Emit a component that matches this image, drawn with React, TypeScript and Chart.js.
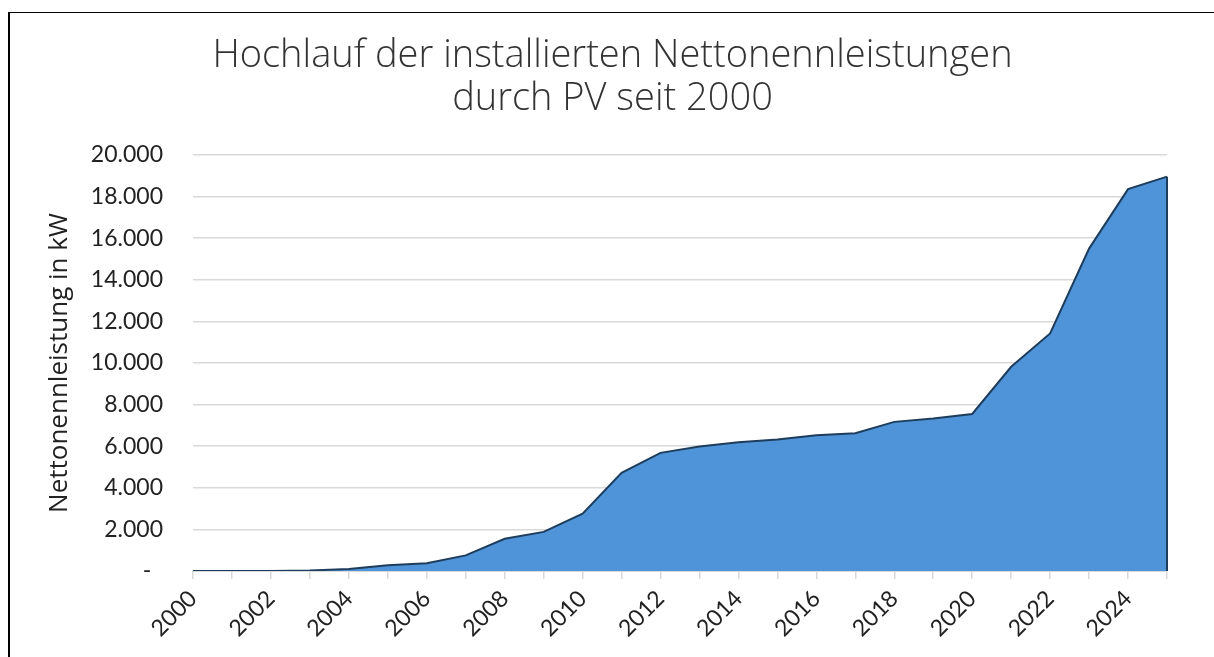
import React, { useEffect, useRef } from 'react';
import { Chart, registerables } from 'chart.js';

Chart.register(...registerables);

const years: string[] = [
  '2000', '2001', '2002', '2003', '2004', '2005', '2006', '2007', '2008', '2009',
  '2010', '2011', '2012', '2013', '2014', '2015', '2016', '2017', '2018', '2019',
  '2020', '2021', '2022', '2023', '2024', '2025',
];

const capacityKW: number[] = [
  0, 0, 5, 30, 100, 280, 370, 750, 1550, 1880,
  2760, 4720, 5680, 5980, 6190, 6320, 6530, 6620, 7170, 7330,
  7550, 9820, 11420, 15500, 18360, 18960,
];

const titleLines: string[] = ['Hochlauf der installierten Nettonennleistungen', 'durch PV seit 2000'];
const yAxisTitle = 'Nettonennleistung in kW';
const yMin = 0;
const yMax = 20000;
const yStep = 2000;

const FONT = 'Lato, "Open Sans", "Noto Sans", sans-serif';
const WIDE_FONT = '"Open Sans", Lato, "Noto Sans", sans-serif';
const TEXT = '#222222';
const GRID = '#d9d9d9';

function formatThousands(v: number): string {
  if (v === 0) return '-  ';
  return Math.round(v).toString().replace(/\B(?=(\d{3})+(?!\d))/g, '.');
}

const rightEdgePlugin = {
  id: 'rightEdge',
  afterDatasetsDraw(chart: any) {
    const meta = chart.getDatasetMeta(0);
    const pts = meta.data;
    if (!pts || !pts.length) return;
    const last = pts[pts.length - 1];
    const base = chart.scales.y.getPixelForValue(0);
    const ctx = chart.ctx;
    ctx.save();
    ctx.strokeStyle = '#1E3D5C';
    ctx.lineWidth = 2;
    ctx.beginPath();
    ctx.moveTo(last.x, last.y);
    ctx.lineTo(last.x, base);
    ctx.stroke();
    ctx.restore();
  },
};

export default function App() {
  const ref = useRef<HTMLCanvasElement | null>(null);

  useEffect(() => {
    if (!ref.current) return;
    const chart = new Chart(ref.current, {
      type: 'line',
      data: {
        labels: years,
        datasets: [
          {
            data: capacityKW,
            fill: 'origin',
            backgroundColor: '#4F94D8',
            borderColor: '#1E3D5C',
            borderWidth: 2,
            pointRadius: 0,
            tension: 0,
            yAxisID: 'y',
          },
        ],
      },
      options: {
        responsive: false,
        animation: false,
        layout: { padding: { left: 50, right: 39, top: 0, bottom: 0 } },
        plugins: {
          legend: { display: false },
          tooltip: { enabled: false },
          title: {
            display: true,
            text: titleLines,
            color: '#333333',
            font: { family: WIDE_FONT, size: 38, weight: 300 as any, lineHeight: 43 / 38 },
            padding: { top: 35, bottom: 34 },
          },
        },
        scales: {
          x: {
            offset: false,
            grid: {
              display: true,
              drawOnChartArea: false,
              drawTicks: true,
              tickLength: 8,
              color: GRID,
              lineWidth: 1.5,
            },
            border: { display: true, color: GRID, width: 2 },
            ticks: {
              autoSkip: false,
              maxRotation: 45,
              minRotation: 45,
              padding: 6,
              color: TEXT,
              font: { family: FONT, size: 23 },
              callback: (_v: any, i: number) => (i % 2 === 0 ? years[i] : ''),
            },
            afterFit: (s: any) => {
              s.height = 86;
            },
          },
          y: {
            min: yMin,
            max: yMax,
            ticks: {
              stepSize: yStep,
              padding: 30,
              color: TEXT,
              font: { family: FONT, size: 23 },
              callback: (v: any) => formatThousands(Number(v)),
            },
            grid: { color: GRID, lineWidth: 1.5, drawTicks: false },
            border: { display: false },
            title: {
              display: true,
              text: yAxisTitle,
              color: TEXT,
              font: { family: WIDE_FONT, size: 26, lineHeight: 0.76 },
              padding: { top: 0, bottom: 4 },
            },
            afterFit: (s: any) => {
              s.width = 143;
            },
          },
          ySpacer: {
            position: 'right',
            display: true,
            min: yMin,
            max: yMax,
            grid: { display: false, drawTicks: false },
            border: { display: false },
            ticks: { display: false },
            afterFit: (s: any) => {
              s.width = 8;
            },
          },
        },
      },
      plugins: [rightEdgePlugin],
    } as any);
    return () => chart.destroy();
  }, []);

  return (
    <div style={{ position: 'fixed', left: 0, top: 0, width: 1214, height: 657, background: '#fff', overflow: 'hidden' }}>
      <div
        style={{
          position: 'absolute',
          left: 8,
          top: 12,
          width: 1300,
          height: 800,
          borderLeft: '2px solid #000',
          borderTop: '1px solid #000',
        }}
      />
      <canvas ref={ref} width={1214} height={657} style={{ position: 'absolute', left: 0, top: 0, display: 'block' }} />
    </div>
  );
}
